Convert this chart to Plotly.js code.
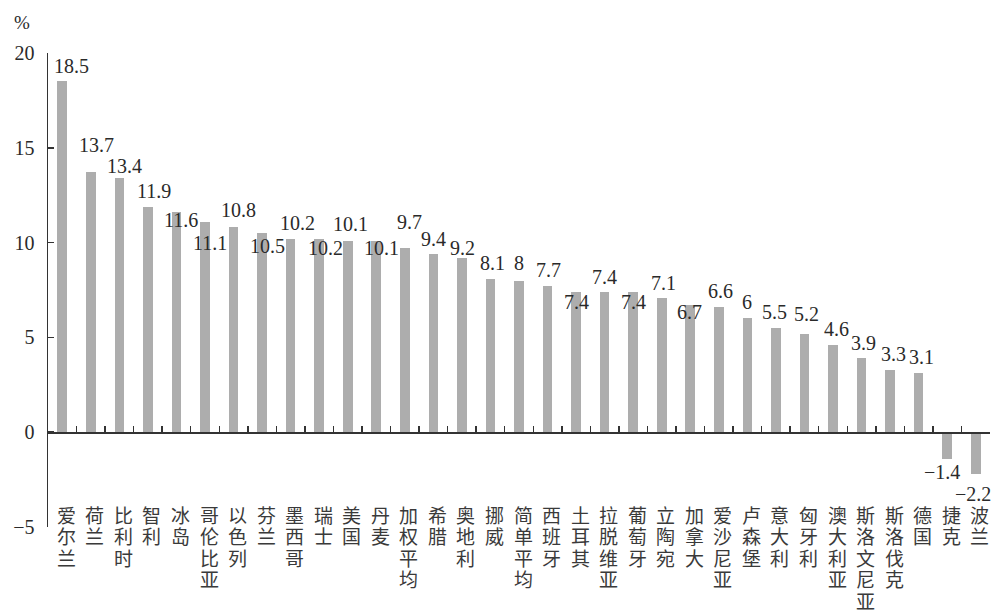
<!DOCTYPE html>
<html>
<head>
<meta charset="utf-8">
<script src="https://cdn.plot.ly/plotly-3.0.1.min.js"></script>
<style>html,body{margin:0;padding:0;background:#fff;}#chart{width:996px;height:610px;}</style>
</head>
<body>
<div id="chart"></div>
<script>
// Data
const countries = ["爱尔兰","荷兰","比利时","智利","冰岛","哥伦比亚","以色列","芬兰","墨西哥","瑞士","美国","丹麦","加权平均","希腊","奥地利","挪威","简单平均","西班牙","土耳其","拉脱维亚","葡萄牙","立陶宛","加拿大","爱沙尼亚","卢森堡","意大利","匈牙利","澳大利亚","斯洛文尼亚","斯洛伐克","德国","捷克","波兰"];
const values = [18.5,13.7,13.4,11.9,11.6,11.1,10.8,10.5,10.2,10.2,10.1,10.1,9.7,9.4,9.2,8.1,8,7.7,7.4,7.4,7.4,7.1,6.7,6.6,6,5.5,5.2,4.6,3.9,3.3,3.1,-1.4,-2.2];
const yTicks = [-5,0,5,10,15,20];

// Label placement offsets (px) – styling only
const labelDy = [15,27,12,16,-8,-21,17,-13,16,-9,17,-7,26,15,10,16,18,16,-10,15,-10,15,-7,16,16,16,20,16,15,16,16,-13,-20];
const labelDx = [9,6,5,6,5,5,5,5,7,6,3,5,5,0,1,2,0,1,0,0,0,2,-1,2,0,-1,2,3,2,3,3,-5,-3];

const serif = "Liberation Serif, Times New Roman, serif";
const cjk = "Noto Sans CJK SC, sans-serif";
const ink = "#2a2a2a";

const trace = {
  type: "bar",
  x: countries,
  y: values,
  marker: {color: "#adadad", line: {width: 0}},
  width: 0.34,
  hoverinfo: "x+y"
};

const annotations = [];
countries.forEach((c, i) => {
  annotations.push({
    x: c, y: values[i], xref: "x", yref: "y",
    text: String(values[i]).replace("-", "\u2212"),
    showarrow: false, xanchor: "center", yanchor: "middle",
    xshift: labelDx[i], yshift: labelDy[i],
    font: {family: serif, size: 20, color: ink}
  });
  Array.from(c).forEach((ch, j) => {
    annotations.push({
      x: c, y: 0, xref: "x", yref: "y",
      text: ch, showarrow: false, xanchor: "center", yanchor: "middle",
      height: 21, valign: "middle", borderpad: 0,
      xshift: 4, yshift: -(82 + 21.5 * j),
      font: {family: cjk, size: 19, color: "#3a3a3a"}
    });
  });
});

const W = 996, H = 610, mL = 48, mR = 6, mT = 53, mB = 83;
annotations.push({
  xref: "paper", yref: "paper",
  x: (22 - mL) / (W - mL - mR),
  y: (H - mB - 22) / (H - mT - mB),
  text: "%", showarrow: false, xanchor: "center", yanchor: "middle",
  font: {family: serif, size: 19, color: ink}
});

const layout = {
  width: W, height: H,
  margin: {l: mL, r: mR, t: mT, b: mB, pad: 0},
  paper_bgcolor: "#ffffff",
  plot_bgcolor: "#ffffff",
  showlegend: false,
  bargap: 0,
  xaxis: {
    type: "category",
    anchor: "free",
    position: 5 / 25,
    showline: true, linecolor: "#333", linewidth: 1.5,
    ticks: "inside", tickson: "boundaries", ticklen: 6, tickwidth: 1.5, tickcolor: "#333",
    showticklabels: false, showgrid: false, zeroline: false,
    range: [-0.5, countries.length - 0.5],
    fixedrange: true
  },
  yaxis: {
    range: [-5, 20],
    tickvals: yTicks,
    showline: true, linecolor: "#333", linewidth: 1.5,
    ticks: "inside", ticklen: 6, tickwidth: 1.5, tickcolor: "#333",
    showgrid: false, zeroline: false,
    tickfont: {family: serif, size: 20, color: ink},
    ticklabelstandoff: 8,
    fixedrange: true
  },
  annotations: annotations
};

Plotly.newPlot("chart", [trace], layout, {displayModeBar: false, staticPlot: true});
</script>
</body>
</html>
